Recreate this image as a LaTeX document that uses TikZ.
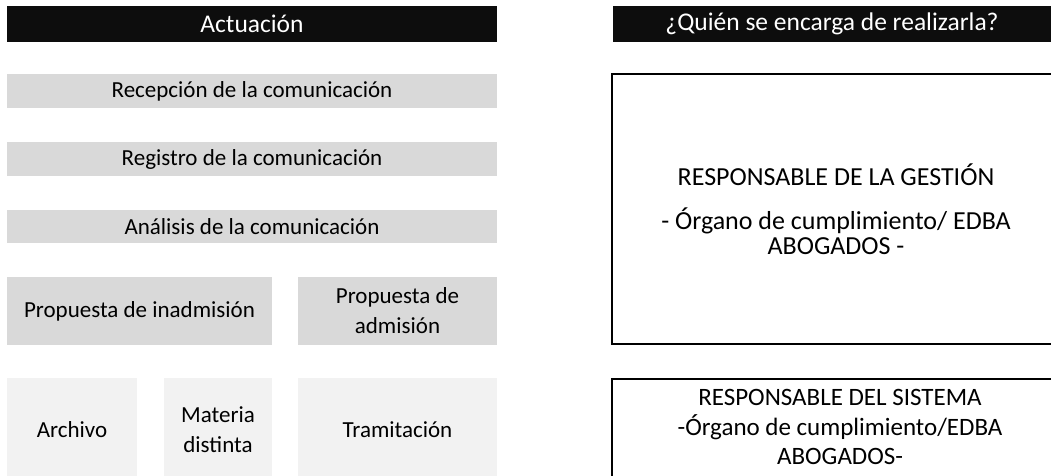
\documentclass[tikz,border=0pt]{standalone}
\usepackage{fontspec}
\setmainfont{Carlito}
\definecolor{hdrblack}{HTML}{0D0D0D}
\definecolor{boxgray}{HTML}{D9D9D9}
\definecolor{boxlight}{HTML}{F2F2F2}
\begin{document}
\begin{tikzpicture}[x=1pt,y=-1pt,
  hdr/.style={fill=hdrblack, text=white, inner sep=0pt, font=\fontsize{25.5}{30}\selectfont},
  graybox/.style={fill=boxgray, inner sep=0pt, align=center, font=\fontsize{23}{30}\selectfont},
  lightbox/.style={fill=boxlight, inner sep=0pt, align=center, font=\fontsize{23}{30}\selectfont},
  respbox/.style={draw=black, line width=2pt, inner sep=0pt},
  resptext/.style={inner sep=0pt, align=center}]
\useasboundingbox (0,0) rectangle (1051,475);
\clip (0,0) rectangle (1051,475);
% headers
\node[hdr, minimum width=490pt, minimum height=36pt] (hl) at (252,24) {Actuación};
\node[hdr, minimum width=438pt, minimum height=36pt] (hr) at (832,24) {¿Quién se encarga de realizarla?};
% left column
\node[graybox, minimum width=490pt, minimum height=34pt] (rec) at (252,91) {Recepción de la comunicación};
\node[graybox, minimum width=490pt, minimum height=34pt] (reg) at (252,159) {Registro de la comunicación};
\node[graybox, minimum width=490pt, minimum height=33pt] (ana) at (252,226.5) {Análisis de la comunicación};
\node[graybox, minimum width=265pt, minimum height=68pt] (inad) at (139.5,311) {Propuesta de inadmisión};
\node[graybox, minimum width=199pt, minimum height=68pt] (adm) at (397.5,311) {Propuesta de\\admisión};
\node[lightbox, minimum width=130pt, minimum height=104pt] (arch) at (72,430) {Archivo};
\node[lightbox, minimum width=108pt, minimum height=104pt] (mat) at (218,430) {Materia\\distinta};
\node[lightbox, minimum width=199pt, minimum height=104pt] (tram) at (397.5,430) {Tramitación};
% right column
\node[respbox, minimum width=448pt, minimum height=270pt] (r1) at (836,209) {};
\node[resptext, font=\fontsize{26}{25}\selectfont] (r1t) at (836,209) {RESPONSABLE DE LA GESTIÓN\\[19pt]- Órgano de cumplimiento/ EDBA\\ABOGADOS -};
\node[respbox, minimum width=448pt, minimum height=111pt] (r2) at (836,434.5) {};
\node[resptext, font=\fontsize{25}{29.5}\selectfont] (r2t) at (840,427) {RESPONSABLE DEL SISTEMA\\-Órgano de cumplimiento/EDBA\\ABOGADOS-};
\end{tikzpicture}
\end{document}
